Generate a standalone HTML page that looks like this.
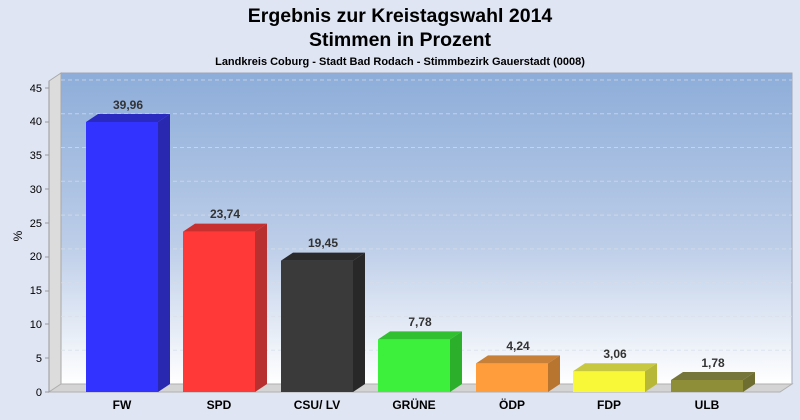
<!DOCTYPE html>
<html><head><meta charset="utf-8"><style>
body{margin:0;background:#dfe5f3;}
svg{display:block;font-family:"Liberation Sans",Arial,sans-serif;}
</style></head><body>
<svg width="800" height="420" viewBox="0 0 800 420" xmlns="http://www.w3.org/2000/svg">
<defs>
<linearGradient id="bg" x1="0" y1="0" x2="0" y2="1">
<stop offset="0" stop-color="#8dadd9"/><stop offset="0.55" stop-color="#bccde8"/><stop offset="1" stop-color="#ffffff"/>
</linearGradient>
</defs>
<rect width="800" height="420" fill="#dfe5f3"/>
<text x="400" y="22" text-anchor="middle" font-size="19.5" font-weight="bold">Ergebnis zur Kreistagswahl 2014</text>
<text x="400" y="46" text-anchor="middle" font-size="19.5" font-weight="bold">Stimmen in Prozent</text>
<text x="400" y="65" text-anchor="middle" font-size="11" font-weight="bold">Landkreis Coburg - Stadt Bad Rodach - Stimmbezirk Gauerstadt (0008)</text>
<rect x="61" y="73" width="731" height="311" fill="url(#bg)" stroke="#a0a8b8" stroke-width="1"/>
<polygon points="49,81 61,73 61,384 49,392" fill="#dcdcdc" stroke="#a8a8a8"/>
<polygon points="49,392 61,384 792,384 780,392" fill="#d4d4d4" stroke="#b0b0b0"/>
<g stroke="#d8dee8" stroke-opacity="0.7" stroke-dasharray="4,3" fill="none">
<line x1="61" y1="350.2" x2="792" y2="350.2"/><line x1="61" y1="316.4" x2="792" y2="316.4"/>
<line x1="61" y1="282.7" x2="792" y2="282.7"/><line x1="61" y1="248.9" x2="792" y2="248.9"/>
<line x1="61" y1="215.1" x2="792" y2="215.1"/><line x1="61" y1="181.3" x2="792" y2="181.3"/>
<line x1="61" y1="147.5" x2="792" y2="147.5"/><line x1="61" y1="113.8" x2="792" y2="113.8"/>
<line x1="61" y1="80" x2="792" y2="80"/>
</g>
<line x1="49" y1="81" x2="49" y2="392" stroke="#999"/>
<g font-size="11" text-anchor="end">
<text x="42" y="396">0</text><text x="42" y="362">5</text><text x="42" y="328">10</text>
<text x="42" y="294">15</text><text x="42" y="260">20</text><text x="42" y="227">25</text>
<text x="42" y="193">30</text><text x="42" y="159">35</text><text x="42" y="125">40</text><text x="42" y="92">45</text>
</g>
<g stroke="#999"><line x1="45" y1="392" x2="49" y2="392"/><line x1="45" y1="358" x2="49" y2="358"/><line x1="45" y1="324" x2="49" y2="324"/><line x1="45" y1="291" x2="49" y2="291"/><line x1="45" y1="257" x2="49" y2="257"/><line x1="45" y1="223" x2="49" y2="223"/><line x1="45" y1="189" x2="49" y2="189"/><line x1="45" y1="155" x2="49" y2="155"/><line x1="45" y1="122" x2="49" y2="122"/><line x1="45" y1="88" x2="49" y2="88"/></g>
<text x="22" y="236" font-size="12" transform="rotate(-90 22 236)" text-anchor="middle">%</text>
<g font-size="12" font-weight="bold" fill="#333" text-anchor="middle">
<g><rect x="86" y="122" width="72" height="270" fill="#3333ff"/><polygon points="86,122 98,114 170,114 158,122" fill="#2a2ac0"/><polygon points="158,122 170,114 170,384 158,392" fill="#2828b0"/><text x="128" y="109">39,96</text></g>
<g><rect x="183" y="231.6" width="72" height="160.4" fill="#ff3838"/><polygon points="183,231.6 195,223.6 267,223.6 255,231.6" fill="#c83030"/><polygon points="255,231.6 267,223.6 267,384 255,392" fill="#b83030"/><text x="225" y="218">23,74</text></g>
<g><rect x="281" y="260.6" width="72" height="131.4" fill="#3a3a3a"/><polygon points="281,260.6 293,252.6 365,252.6 353,260.6" fill="#2a2a2a"/><polygon points="353,260.6 365,252.6 365,384 353,392" fill="#282828"/><text x="323" y="247">19,45</text></g>
<g><rect x="378" y="339.4" width="72" height="52.6" fill="#3cf03c"/><polygon points="378,339.4 390,331.4 462,331.4 450,339.4" fill="#30c030"/><polygon points="450,339.4 462,331.4 462,384 450,392" fill="#2cb02c"/><text x="420" y="326">7,78</text></g>
<g><rect x="476" y="363.4" width="72" height="28.6" fill="#ff9c3c"/><polygon points="476,363.4 488,355.4 560,355.4 548,363.4" fill="#c88038"/><polygon points="548,363.4 560,355.4 560,384 548,392" fill="#b87530"/><text x="518" y="350">4,24</text></g>
<g><rect x="573" y="371.3" width="72" height="20.7" fill="#f8f838"/><polygon points="573,371.3 585,363.3 657,363.3 645,371.3" fill="#c8c840"/><polygon points="645,371.3 657,363.3 657,384 645,392" fill="#b8b838"/><text x="615" y="358">3,06</text></g>
<g><rect x="671" y="380" width="72" height="12" fill="#8e8e38"/><polygon points="671,380 683,372 755,372 743,380" fill="#76763a"/><polygon points="743,380 755,372 755,384 743,392" fill="#6e6e30"/><text x="713" y="367">1,78</text></g>
</g>
<g font-size="12" font-weight="bold" text-anchor="middle">
<text x="122" y="409">FW</text><text x="219" y="409">SPD</text><text x="317" y="409">CSU/ LV</text>
<text x="414" y="409">GRÜNE</text><text x="512" y="409">ÖDP</text><text x="609" y="409">FDP</text><text x="707" y="409">ULB</text>
</g>
</svg>
</body></html>
